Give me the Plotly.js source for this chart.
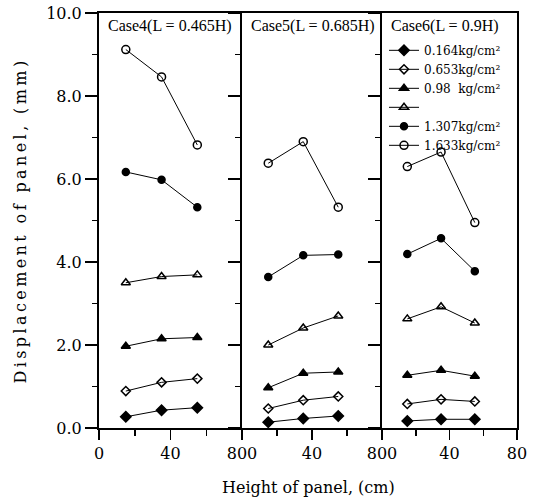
<!DOCTYPE html>
<html>
<head>
<meta charset="utf-8">
<script src="https://cdn.plot.ly/plotly-3.0.1.min.js"></script>
<style>
body{margin:0;background:#fff;}
.ytitle{letter-spacing:3.4px;}
.xtitle{letter-spacing:1.8px;}
</style>
</head>
<body>
<div id="chart" style="width:533px;height:499px;"></div>
<script>
// panel heights (cm)
const heights = [15, 35, 55];
// legend labels (six pressure series)
const seriesNames = ['0.164kg/cm²', '0.653kg/cm²', '0.98  kg/cm²', ' ', '1.307kg/cm²', '1.633kg/cm²'];
const caseTitles = ['Case4(L = 0.465H)', 'Case5(L = 0.685H)', 'Case6(L = 0.9H)'];

// Case4 displacement (mm)
const case4_s1 = [0.27, 0.43, 0.49];
const case4_s2 = [0.89, 1.10, 1.19];
const case4_s3 = [1.97, 2.15, 2.18];
const case4_s4 = [3.50, 3.65, 3.69];
const case4_s5 = [6.17, 5.98, 5.32];
const case4_s6 = [9.12, 8.46, 6.82];
// Case5
const case5_s1 = [0.14, 0.23, 0.29];
const case5_s2 = [0.47, 0.67, 0.76];
const case5_s3 = [0.97, 1.32, 1.35];
const case5_s4 = [2.00, 2.41, 2.70];
const case5_s5 = [3.64, 4.16, 4.18];
const case5_s6 = [6.38, 6.90, 5.32];
// Case6
const case6_s1 = [0.17, 0.21, 0.21];
const case6_s2 = [0.58, 0.69, 0.64];
const case6_s3 = [1.27, 1.39, 1.25];
const case6_s4 = [2.63, 2.92, 2.53];
const case6_s5 = [4.19, 4.57, 3.78];
const case6_s6 = [6.30, 6.65, 4.95];

const xTickVals = [0, 40, 80];
const xTickText1 = ['0', '40', '800'];
const xTickText2 = ['', '40', '800'];
const xTickText3 = ['', '40', '80'];
const yTickVals = [0, 2, 4, 6, 8, 10];
const yTickText = ['0.0', '2.0', '4.0', '6.0', '8.0', '10.0'];

const markers = [
  {symbol: 'diamond', size: 8},
  {symbol: 'diamond-open', size: 7},
  {symbol: 'triangle-up', size: 8},
  {symbol: 'triangle-up-open', size: 8},
  {symbol: 'circle', size: 7},
  {symbol: 'circle-open', size: 8}
];

const cases = [
  [case4_s1, case4_s2, case4_s3, case4_s4, case4_s5, case4_s6],
  [case5_s1, case5_s2, case5_s3, case5_s4, case5_s5, case5_s6],
  [case6_s1, case6_s2, case6_s3, case6_s4, case6_s5, case6_s6]
];

const traces = [];
cases.forEach((series, ci) => {
  series.forEach((vals, si) => {
    traces.push({
      x: heights, y: vals,
      xaxis: ci === 0 ? 'x' : 'x' + (ci + 1),
      yaxis: ci === 0 ? 'y' : 'y' + (ci + 1),
      mode: 'lines+markers',
      name: seriesNames[si],
      showlegend: ci === 0,
      line: {color: 'black', width: 1},
      marker: {symbol: markers[si].symbol, size: markers[si].size, color: 'black',
               line: {color: 'black', width: 1.5}}
    });
  });
});

const font = {family: 'DejaVu Serif, serif', size: 16, color: 'black'};
function xax(domain, text) {
  return {
    domain: domain, range: [0, 80], tickvals: xTickVals, ticktext: text,
    ticks: 'outside', ticklen: 10, tickwidth: 1.5, tickcolor: 'black',
    minor: {tickvals: [20, 60], ticks: 'outside', ticklen: 6, tickwidth: 1.5, tickcolor: 'black'},
    showline: true, linewidth: 2, linecolor: 'black', mirror: true,
    showgrid: false, zeroline: false, tickfont: font, fixedrange: true
  };
}
function yax(anchor, labels, mirror) {
  return {
    anchor: anchor, range: [0, 10], tickvals: yTickVals, ticktext: yTickText,
    showticklabels: labels,
    ticks: 'outside', ticklen: 12, tickwidth: 1.5, tickcolor: 'black',
    minor: {tickvals: [1, 3, 5, 7, 9], ticks: 'outside', ticklen: 5, tickwidth: 1.5, tickcolor: 'black'},
    showline: true, linewidth: 2, linecolor: 'black', mirror: mirror,
    showgrid: false, zeroline: false, tickfont: font, fixedrange: true
  };
}

const d1 = (242 - 99) / 418, d2 = (382 - 99) / 418;
const layout = {
  width: 533, height: 499,
  margin: {l: 99, r: 16, t: 13, b: 71},
  paper_bgcolor: 'white', plot_bgcolor: 'white',
  showlegend: true,
  xaxis: xax([0, d1], xTickText1),
  xaxis2: xax([d1, d2], xTickText2),
  xaxis3: xax([d2, 1], xTickText3),
  yaxis: Object.assign(yax('x', true, false), {title: {text: 'Displacement of panel, (mm)', font: font, standoff: 16}}),
  yaxis2: yax('x2', false, false),
  yaxis3: yax('x3', false, true),
  legend: {
    x: (384 - 99) / 418, y: 0.945, xanchor: 'left', yanchor: 'top',
    bgcolor: 'rgba(0,0,0,0)', borderwidth: 0,
    font: {family: 'DejaVu Serif, serif', size: 12, color: 'black'},
    tracegroupgap: 0, itemwidth: 30
  },
  annotations: caseTitles.map((t, i) => ({
    text: t, xref: (i === 0 ? 'x' : 'x' + (i + 1)) + ' domain', yref: 'paper',
    x: 0.05, y: 0.968, xanchor: 'left', yanchor: 'middle', showarrow: false,
    font: {family: 'Liberation Serif, serif', size: 16, color: 'black'}
  })).concat([{
    text: 'Height of panel, (cm)', xref: 'paper', yref: 'paper', x: 0.5, y: 0, yshift: -59,
    xanchor: 'center', yanchor: 'middle', showarrow: false, font: font
  }])
};

Plotly.newPlot('chart', traces, layout, {staticPlot: true});
</script>
</body>
</html>
